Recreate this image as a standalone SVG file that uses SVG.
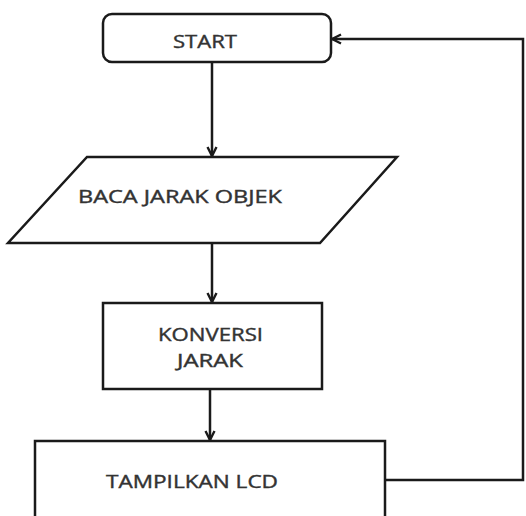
<svg xmlns="http://www.w3.org/2000/svg" width="526" height="516" viewBox="0 0 526 516">
<defs>
<style>
.shape{fill:#fff;stroke:#1a1a1a;stroke-width:2.5}
.lbl{font-family:"Open Sans","Liberation Sans",sans-serif;font-size:18px;fill:#333;stroke:#333;stroke-width:0.4}
.conn{fill:none;stroke:#1a1a1a;stroke-width:2.5}
</style>
<marker id="arr" viewBox="0 0 12 12" refX="11" refY="6" markerWidth="12" markerHeight="12" markerUnits="userSpaceOnUse" orient="auto">
<path d="M2,1.5 L11,6 L2,10.5" fill="none" stroke="#1a1a1a" stroke-width="2.4"/>
</marker>
</defs>
<rect width="526" height="516" fill="#fff"/>
<g id="connectors">
<line class="conn" x1="212" y1="62" x2="212" y2="156" marker-end="url(#arr)"/>
<line class="conn" x1="212" y1="243" x2="212" y2="302" marker-end="url(#arr)"/>
<line class="conn" x1="210" y1="389" x2="210" y2="440" marker-end="url(#arr)"/>
<polyline class="conn" points="385,480 523,480 523,39 332,39" marker-end="url(#arr)"/>
</g>
<g id="start">
<rect class="shape" x="103" y="14" width="228" height="48" rx="9"/>
<text class="lbl" x="173" y="48" textLength="64" lengthAdjust="spacingAndGlyphs">START</text>
</g>
<g id="baca">
<polygon class="shape" points="87,157 397,157 320,243 8,243"/>
<text class="lbl" x="78" y="203" textLength="204" lengthAdjust="spacingAndGlyphs">BACA JARAK OBJEK</text>
</g>
<g id="konversi">
<rect class="shape" x="103" y="303" width="219" height="86"/>
<text class="lbl" x="158" y="341" textLength="105" lengthAdjust="spacingAndGlyphs">KONVERSI</text>
<text class="lbl" x="177" y="367" textLength="66" lengthAdjust="spacingAndGlyphs">JARAK</text>
</g>
<g id="tampilkan">
<rect class="shape" x="35" y="441" width="350" height="90"/>
<text class="lbl" x="106" y="488" textLength="172" lengthAdjust="spacingAndGlyphs">TAMPILKAN LCD</text>
</g>
</svg>
